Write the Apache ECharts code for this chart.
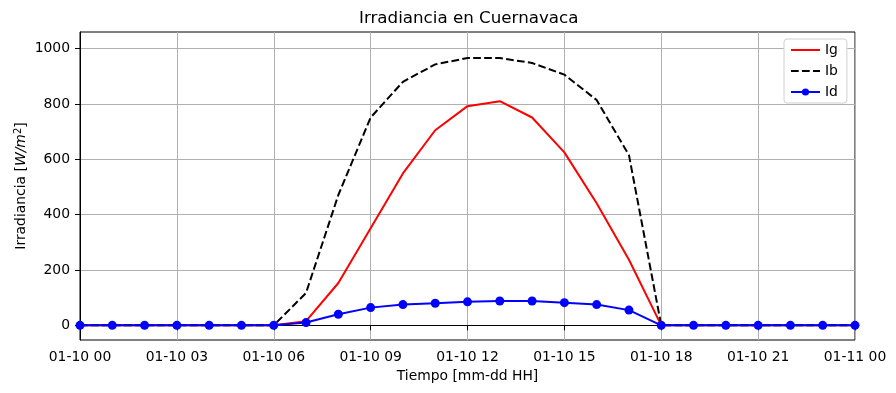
<!DOCTYPE html>
<html><head><meta charset="utf-8">
<script src="https://cdn.jsdelivr.net/npm/echarts@6/dist/echarts.min.js"></script>
<style>html,body{margin:0;padding:0;background:#fff}#c{width:896px;height:393px}</style>
</head><body><div id="c"></div>
<script>
const hours = [0,1,2,3,4,5,6,7,8,9,10,11,12,13,14,15,16,17,18,19,20,21,22,23,24];
const Ig = [0,0,0,0,0,0,0,15,153,351,549,705,792,810,751,625,441,237,0,0,0,0,0,0,0];
const Ib = [0,0,0,0,0,0,0,117,471,751,880,943,966,966,948,906,814,615,0,0,0,0,0,0,0];
const Id = [0,0,0,0,0,0,0,10,40,64,75,80,85,88,88,82,75,55,0,0,0,0,0,0,0];
const xTickLabels = ['01-10 00','01-10 03','01-10 06','01-10 09','01-10 12','01-10 15','01-10 18','01-10 21','01-11 00'];
const yTicks = [0,200,400,600,800,1000];

const font = 'DejaVu Sans';
const chart = echarts.init(document.getElementById('c'), null, {renderer:'canvas'});
const pairs = a => hours.map((h,i)=>[h,a[i]]);
chart.setOption({
  animation:false,
  textStyle:{fontFamily:font},
  title:{text:'Irradiancia en Cuernavaca', left:354, top:5,
    textStyle:{fontFamily:font, fontSize:16.7, fontWeight:'normal', color:'#000'}},
  grid:{left:80, right:41, top:32, bottom:53, show:true, borderColor:'#000', borderWidth:1, backgroundColor:'transparent'},
  legend:{orient:'vertical', left:784, top:39, itemWidth:29, itemHeight:9, itemGap:7,
    padding:[4,9,4,6], borderColor:'#d0d0d0', borderWidth:1, borderRadius:3, backgroundColor:'#fff',
    textStyle:{fontFamily:font, fontSize:13.9, color:'#000'},
    data:[{name:'Ig', itemStyle:{opacity:0}},{name:'Ib', itemStyle:{opacity:0}},{name:'Id'}]},
  xAxis:{type:'value', min:0, max:24, interval:3,
    name:'Tiempo [mm-dd HH]', nameLocation:'middle', nameGap:29, nameMoveOverlap:false,
    nameTextStyle:{fontFamily:font, fontSize:13.9, color:'#000'},
    axisLine:{show:true, lineStyle:{color:'#000', width:1}},
    axisTick:{show:true, inside:false, length:5, lineStyle:{color:'#000'}},
    axisLabel:{margin:10, fontFamily:font, fontSize:13.9, color:'#000',
      formatter:v=>xTickLabels[Math.round(v/3)]},
    splitLine:{show:true, lineStyle:{color:'#b0b0b0', width:1}}},
  yAxis:{type:'value', min:-53, max:1060,
    name:'Irradiancia [{i|W/m}{s|2}]', nameLocation:'middle', nameGap:51, nameMoveOverlap:false,
    nameTextStyle:{fontFamily:font, fontSize:13.9, color:'#000',
      rich:{i:{fontFamily:font, fontSize:13.9, fontStyle:'italic', color:'#000'},
            s:{fontFamily:font, fontSize:10, color:'#000', verticalAlign:'top', padding:[0,0,6,0]}}},
    axisLine:{show:true, lineStyle:{color:'#000', width:1}},
    axisTick:{show:true, inside:false, length:5, lineStyle:{color:'#000'}, customValues:yTicks},
    axisLabel:{margin:10, fontFamily:font, fontSize:13.9, color:'#000', customValues:yTicks,
      formatter:v=>String(v)},
    splitLine:{show:true, lineStyle:{color:'#b0b0b0', width:1}}},
  series:[
    {name:'Ig', type:'line', data:pairs(Ig), symbol:'none', color:'#ff0000',
      lineStyle:{color:'#ff0000', width:2}, z:2},
    {name:'Ib', type:'line', data:pairs(Ib), symbol:'none', color:'#000000',
      lineStyle:{color:'#000000', width:2, type:[7.7,3.3]}, z:3},
    {name:'Id', type:'line', data:pairs(Id), symbol:'circle', symbolSize:9, showSymbol:true, color:'#0000ff',
      itemStyle:{color:'#0000ff'}, lineStyle:{color:'#0000ff', width:2}, z:4}
  ]
});
</script></body></html>
